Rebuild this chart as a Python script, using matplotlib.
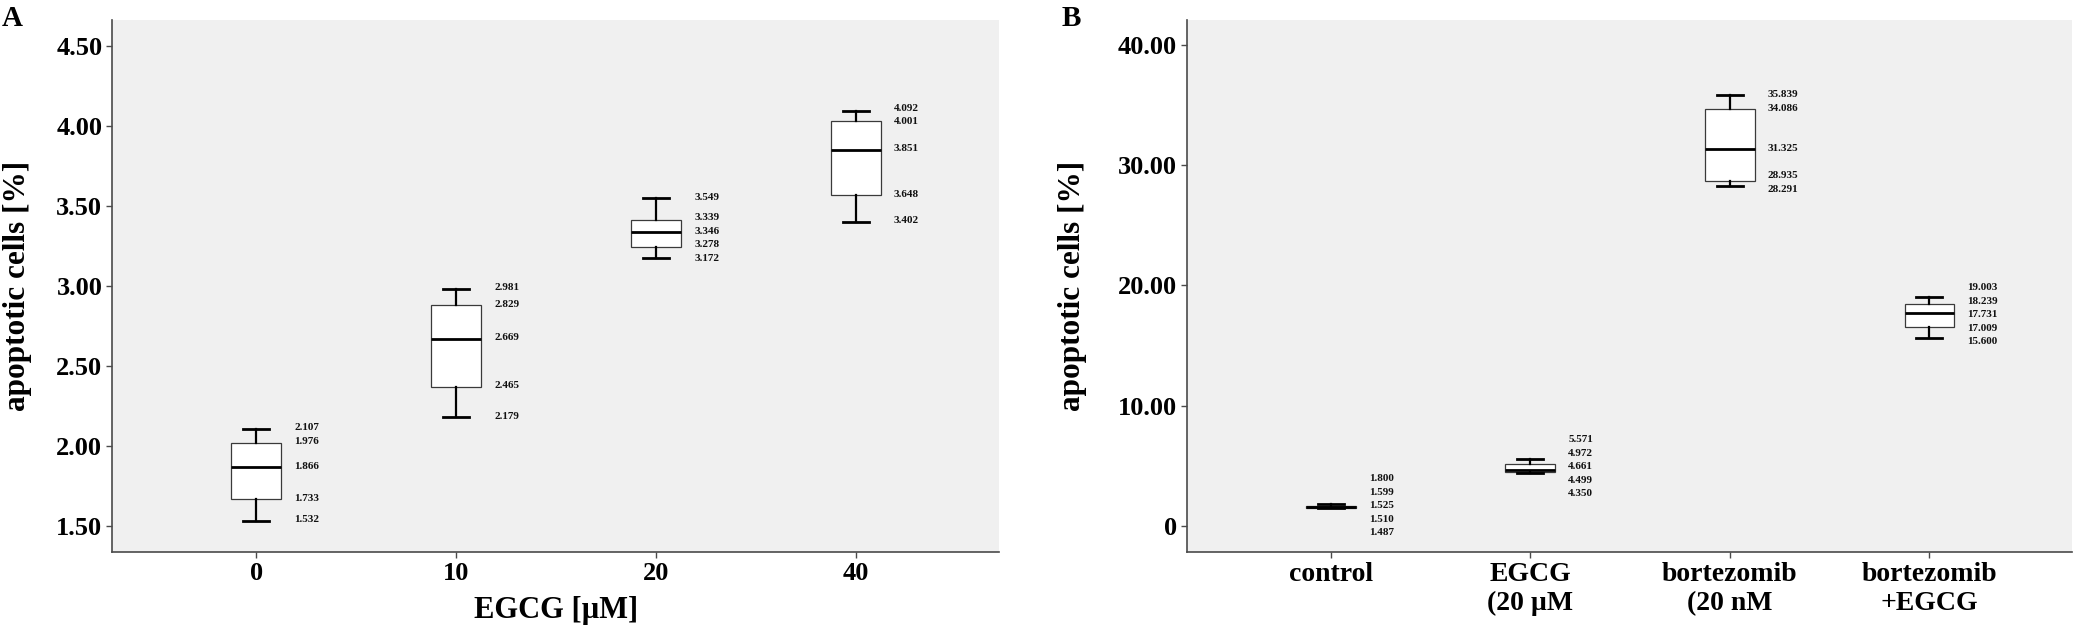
import numpy as np
import matplotlib
matplotlib.use('Agg')
import matplotlib.pyplot as plt

plt.rcParams['font.family'] = ['Liberation Serif', 'DejaVu Serif']
plt.rcParams['font.weight'] = 'bold'

# ---------------- data ----------------
a_categories = ['0', '10', '20', '40']
a_values = [
    [2.107, 1.976, 1.866, 1.733, 1.532],
    [2.981, 2.829, 2.669, 2.465, 2.179],
    [3.549, 3.339, 3.346, 3.278, 3.172],
    [4.092, 4.001, 3.851, 3.648, 3.402],
]
a_yticks = [1.5, 2.0, 2.5, 3.0, 3.5, 4.0, 4.5]
a_yticklabels = ['1.50', '2.00', '2.50', '3.00', '3.50', '4.00', '4.50']
a_xlabel = 'EGCG [µM]'

b_categories = ['control', 'EGCG\n(20 µM', 'bortezomib\n(20 nM', 'bortezomib\n+EGCG']
b_values = [
    [1.800, 1.599, 1.525, 1.510, 1.487],
    [5.571, 4.972, 4.661, 4.499, 4.350],
    [35.839, 34.086, 31.325, 28.935, 28.291],
    [19.003, 18.239, 17.731, 17.009, 15.600],
]
b_yticks = [0, 10, 20, 30, 40]
b_yticklabels = ['0', '10.00', '20.00', '30.00', '40.00']

ylabel = 'apoptotic cells [%]'

BG = '#f0f0f0'
SPINE = '#4a4a4a'


def box_stats(groups):
    stats = []
    for v in groups:
        arr = np.asarray(v, dtype=float)
        q1, med, q3 = np.percentile(arr, [25, 50, 75], method='median_unbiased')
        stats.append(dict(whislo=arr.min(), q1=q1, med=med, q3=q3,
                          whishi=arr.max(), fliers=[]))
    return stats


def spread(ys, gap):
    # ys: display y of labels ordered top -> bottom
    blocks = [[i] for i in range(len(ys))]
    center = lambda b: np.mean([ys[i] for i in b])
    changed = True
    while changed:
        changed = False
        nb = [blocks[0]]
        for b in blocks[1:]:
            p = nb[-1]
            p_low = center(p) - (len(p) - 1) / 2 * gap
            b_high = center(b) + (len(b) - 1) / 2 * gap
            if p_low - b_high < gap - 1e-9:
                nb[-1] = p + b
                changed = True
            else:
                nb.append(b)
        blocks = nb
    out = [0] * len(ys)
    for b in blocks:
        c = center(b)
        for k, i in enumerate(b):
            out[i] = c + ((len(b) - 1) / 2 - k) * gap
    return out


def draw_panel(ax, groups, cats, yticks, yticklabels, ylim, xticksize):
    ax.set_facecolor(BG)
    pos = np.arange(len(groups))
    stats = box_stats(groups)
    ax.bxp(stats, positions=pos, widths=0.25, capwidths=0.13,
           showfliers=False, patch_artist=True,
           boxprops=dict(facecolor='white', edgecolor='#3a3a3a', linewidth=0.9),
           medianprops=dict(color='black', linewidth=2.0),
           whiskerprops=dict(color='black', linewidth=1.6),
           capprops=dict(color='black', linewidth=2.0))
    ax.set_xlim(-0.72, len(groups) - 1 + 0.715)
    ax.set_ylim(*ylim)
    ax.set_yticks(yticks)
    ax.set_yticklabels(yticklabels, fontsize=19, fontweight='bold')
    ax.set_xticks(pos)
    ax.set_xticklabels(cats, fontsize=xticksize, fontweight='bold')
    for s in ['top', 'right']:
        ax.spines[s].set_visible(False)
    for s in ['left', 'bottom']:
        ax.spines[s].set_color(SPINE)
        ax.spines[s].set_linewidth(1.2)
    ax.tick_params(axis='both', direction='out', length=4.3, width=1.0,
                   color=SPINE, pad=3)
    ax.set_ylabel(ylabel, fontsize=22.5, fontweight='bold')

    # value labels
    fig = ax.figure
    fig.canvas.draw()
    inv = ax.transData.inverted()
    for x, st, v in zip(pos, stats, groups):
        ideal = [st['whishi'], st['q3'], st['med'], st['q1'], st['whislo']]
        ys_px = [ax.transData.transform((x, y))[1] for y in ideal]
        new_px = spread(ys_px, 13.5)
        for txt, ypx in zip(v, new_px):
            y = inv.transform((0, ypx + 1.0))[1]
            ax.text(x + 0.19, y, f'{txt:.3f}', ha='left', va='center',
                    fontsize=8, fontweight='bold', color='#111111')


fig = plt.figure(figsize=(20.79, 6.33), dpi=100)
axA = fig.add_axes([0.0541, 0.128, 0.4264, 0.840])
axB = fig.add_axes([0.571, 0.128, 0.4257, 0.840])

draw_panel(axA, a_values, a_categories, a_yticks, a_yticklabels, (1.3375, 4.66), 19)
axA.set_xlabel(a_xlabel, fontsize=22, fontweight='bold', labelpad=8)
axA.yaxis.set_label_coords(-0.0905, 0.5)

draw_panel(axB, b_values, b_categories, b_yticks, b_yticklabels, (-2.19, 42.08), 20)
axB.yaxis.set_label_coords(-0.113, 0.5)

fig.text(2 / 2079, 1 - 5 / 633, 'A', ha='left', va='top', fontsize=21, fontweight='bold')
fig.text(1062 / 2079, 1 - 5 / 633, 'B', ha='left', va='top', fontsize=21, fontweight='bold')

fig.savefig('out.png', dpi=100, facecolor='white')
